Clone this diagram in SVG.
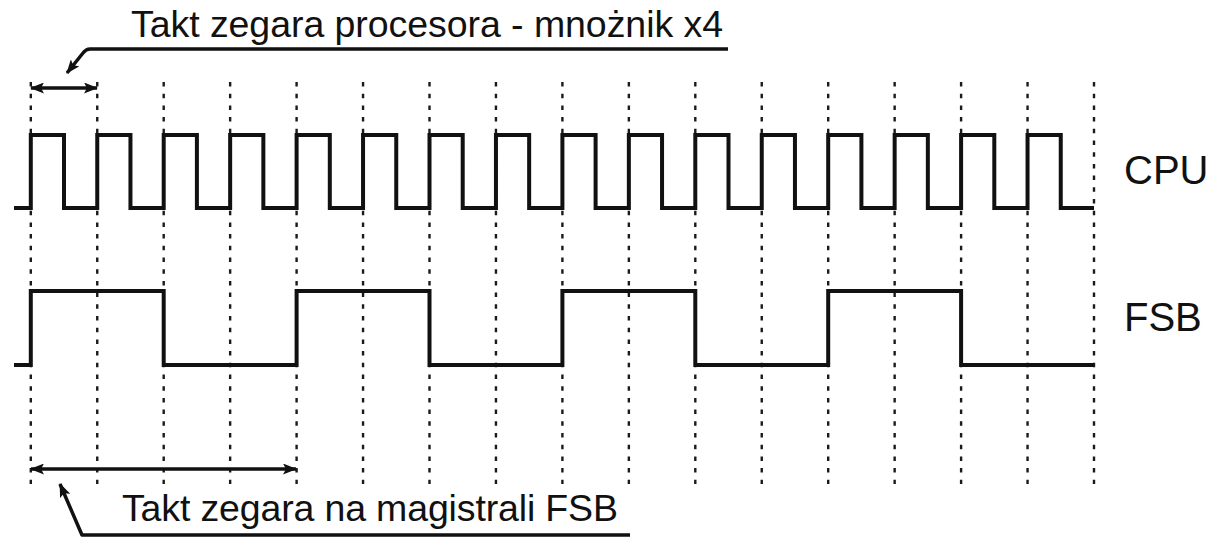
<svg xmlns="http://www.w3.org/2000/svg" width="1227" height="537" viewBox="0 0 1227 537">
<style>
.grid{stroke:#1a1a1a;stroke-width:2.4;stroke-dasharray:4.5 7.2;fill:none}
.wave{stroke:#111;stroke-width:4;fill:none;stroke-linejoin:miter;stroke-linecap:butt}
.arr{stroke:#111;stroke-width:3.5;fill:none}
.call{stroke:#111;stroke-width:3.5;fill:none;stroke-linejoin:round}
.lbl{font-family:"Liberation Sans",Arial,sans-serif;font-size:37.5px;fill:#111}
.sig{font-family:"Liberation Sans",Arial,sans-serif;font-size:40px;fill:#111}
</style>
<defs>
<marker id="ah" viewBox="0 0 14 11" refX="13" refY="5.5" markerWidth="14" markerHeight="11" markerUnits="userSpaceOnUse" orient="auto-start-reverse">
<path d="M0,0 L14,5.5 L0,11 L3,5.5 Z" fill="#111"/>
</marker>
</defs>
<rect width="1227" height="537" fill="#fff"/>
<g id="grid">
<line class="grid" x1="30.8" y1="82" x2="30.8" y2="484"/>
<line class="grid" x1="97.25" y1="82" x2="97.25" y2="484"/>
<line class="grid" x1="163.7" y1="82" x2="163.7" y2="484"/>
<line class="grid" x1="230.15" y1="82" x2="230.15" y2="484"/>
<line class="grid" x1="296.6" y1="82" x2="296.6" y2="484"/>
<line class="grid" x1="363.05" y1="82" x2="363.05" y2="484"/>
<line class="grid" x1="429.5" y1="82" x2="429.5" y2="484"/>
<line class="grid" x1="495.95" y1="82" x2="495.95" y2="484"/>
<line class="grid" x1="562.4" y1="82" x2="562.4" y2="484"/>
<line class="grid" x1="628.85" y1="82" x2="628.85" y2="484"/>
<line class="grid" x1="695.3" y1="82" x2="695.3" y2="484"/>
<line class="grid" x1="761.75" y1="82" x2="761.75" y2="484"/>
<line class="grid" x1="828.2" y1="82" x2="828.2" y2="484"/>
<line class="grid" x1="894.65" y1="82" x2="894.65" y2="484"/>
<line class="grid" x1="961.1" y1="82" x2="961.1" y2="484"/>
<line class="grid" x1="1027.55" y1="82" x2="1027.55" y2="484"/>
<line class="grid" x1="1094" y1="82" x2="1094" y2="484"/>
</g>
<g id="cpu">
<path class="wave" d="M14,208 H30.8 V135 H64 V208 H97.25 V135 H130.45 V208 H163.7 V135 H196.9 V208 H230.15 V135 H263.35 V208 H296.6 V135 H329.8 V208 H363.05 V135 H396.25 V208 H429.5 V135 H462.7 V208 H495.95 V135 H529.15 V208 H562.4 V135 H595.6 V208 H628.85 V135 H662.05 V208 H695.3 V135 H728.5 V208 H761.75 V135 H794.95 V208 H828.2 V135 H861.4 V208 H894.65 V135 H927.85 V208 H961.1 V135 H994.3 V208 H1027.55 V135 H1060.75 V208 H1094"/>
<text class="sig" x="1124" y="184">CPU</text>
</g>
<g id="fsb">
<path class="wave" d="M14,365 H30.8 V291 H163.7 V365 H296.6 V291 H429.5 V365 H562.4 V291 H695.3 V365 H828.2 V291 H961.1 V365 H1094"/>
<text class="sig" x="1124" y="331">FSB</text>
</g>
<g id="connectors">
<line class="arr" x1="31" y1="88" x2="97" y2="88" marker-start="url(#ah)" marker-end="url(#ah)"/>
<line class="arr" x1="31" y1="469" x2="296" y2="469" marker-start="url(#ah)" marker-end="url(#ah)"/>
<path class="call" d="M728,49 H90 Q86,49 83,53 L67,73" marker-end="url(#ah)"/>
<path class="call" d="M630,535 H82 L60,484" marker-end="url(#ah)"/>
</g>
<g id="labels">
<text class="lbl" x="131" y="37" textLength="592">Takt zegara procesora - mnożnik x4</text>
<text class="lbl" x="122" y="521" textLength="496">Takt zegara na magistrali FSB</text>
</g>
</svg>
